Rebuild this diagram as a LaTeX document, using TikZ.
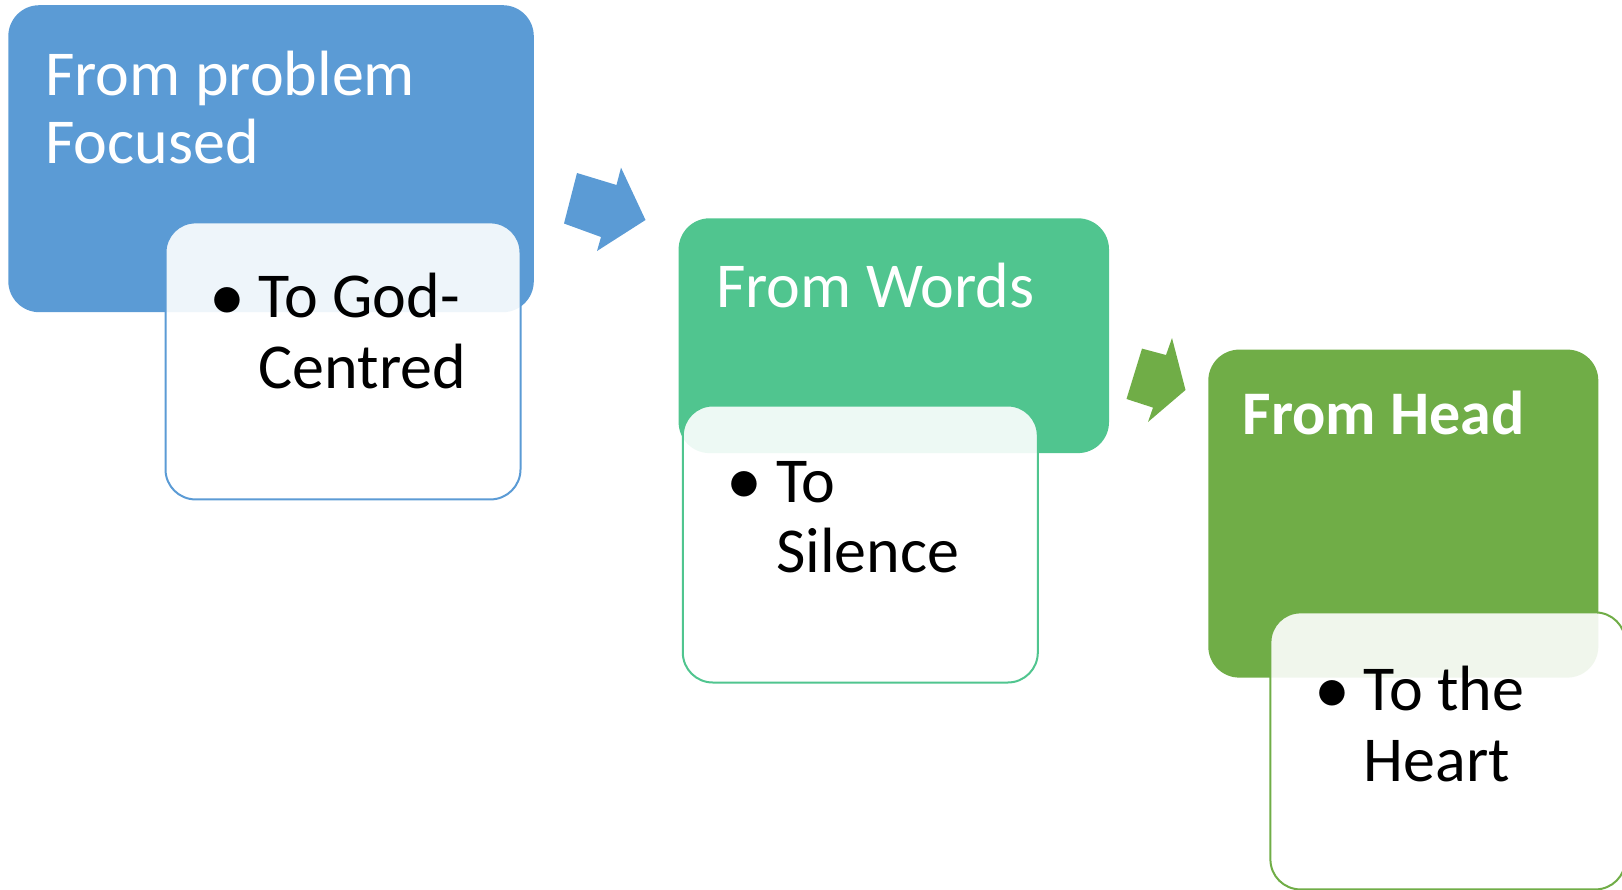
\documentclass[tikz,border=0pt]{standalone}
\usepackage{fontspec}
\setmainfont{Carlito}
\definecolor{cblue}{HTML}{5B9BD5}
\definecolor{cteal}{HTML}{50C58F}
\definecolor{cgreen}{HTML}{70AD47}
\begin{document}
\begin{tikzpicture}[x=1pt,y=-1pt,
  mainbox/.style={rectangle, rounded corners=31pt, anchor=north west, inner sep=0pt, outer sep=0pt},
  subbox/.style={rectangle, rounded corners=30pt, anchor=north west, inner sep=0pt, outer sep=0pt,
    fill=white, fill opacity=0.9, draw=#1, line width=2pt, minimum width=355pt, minimum height=277pt},
  lbl/.style={anchor=base west, inner sep=0pt, font=\fontsize{64}{70}\selectfont},
  headtxt/.style={lbl, text=white},
  bodytxt/.style={lbl, text=black},
  dot/.style={lbl, text=black, font=\fontsize{72}{70}\selectfont},
  chev/.style={fill=#1}
]
\path[use as bounding box, clip] (0,0) rectangle (1622,889);

% stage 1
\node[mainbox, fill=cblue, minimum width=525.5pt, minimum height=307pt] (b1) at (8.3,5.2) {};
\node[subbox=cblue] (w1) at (165.5,222.4) {};
\node[headtxt] (t1a) at (45,95) {From problem};
\node[headtxt] (t1b) at (45,163.5) {Focused};
\node[dot] (d1) at (209,320) {•};
\node[bodytxt] (s1a) at (258.6,317.6) {To God-};
\node[bodytxt] (s1b) at (258.6,388) {Centred};

% arrow 1
\fill[chev=cblue] (577,173) -- (616.5,185) -- (621,167.6) -- (645.5,220) -- (597,251) -- (601,237) -- (564,223.5) -- cycle;

% stage 2
\node[mainbox, fill=cteal, minimum width=430.4pt, minimum height=234.8pt] (b2) at (678.6,218.3) {};
\node[subbox=cteal] (w2) at (682.8,405.5) {};
\node[headtxt] (t2) at (716,307) {From Words};
\node[dot] (d2) at (726,504.4) {•};
\node[bodytxt] (s2a) at (776,502) {To};
\node[bodytxt] (s2b) at (776,572) {Silence};

% arrow 2
\fill[chev=cgreen] (1142,348.6) -- (1166,355) -- (1172,338) -- (1185.5,390) -- (1148,422) -- (1153,407.6) -- (1126.5,399) -- cycle;

% stage 3
\node[mainbox, fill=cgreen, minimum width=390pt, minimum height=328pt] (b3) at (1208.3,349.6) {};
\node[subbox=cgreen] (w3) at (1270.4,612.4) {};
\node[headtxt, font=\fontsize{62}{70}\selectfont\bfseries] (t3) at (1242.5,434.5) {From Head};
\node[dot] (d3) at (1314,713) {•};
\node[bodytxt] (s3a) at (1363.5,710.7) {To the};
\node[bodytxt] (s3b) at (1363.5,781) {Heart};
\end{tikzpicture}
\end{document}
